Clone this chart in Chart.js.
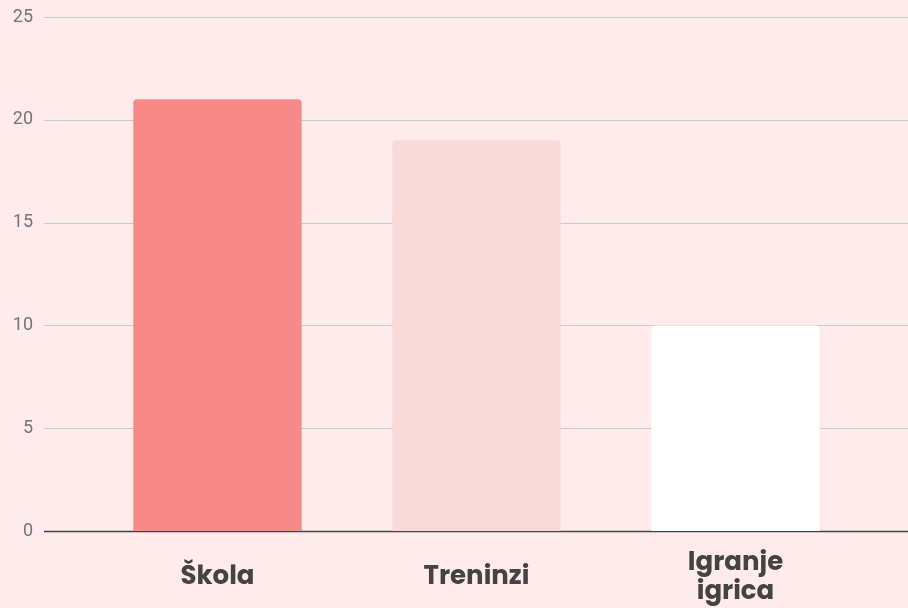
<!DOCTYPE html>
<html>
<head>
<meta charset="utf-8">
<script src="https://cdn.jsdelivr.net/npm/chart.js@4.4.0/dist/chart.umd.min.js"></script>
<style>
  html, body { margin: 0; padding: 0; background: #FFEBEB; }
  #wrap { width: 908px; height: 608px; position: relative; }
</style>
</head>
<body>
<div id="wrap"><canvas id="c" width="908" height="608"></canvas></div>
<script>
const categories = [["Škola"], ["Treninzi"], ["Igranje", "igrica"]];
const values = [21, 19, 10];
const barColors = ["#F78A88", "#F9D9D9", "#FFFFFF"];
const yTicks = [0, 5, 10, 15, 20, 25];

const fullGrid = {
  id: 'fullGrid',
  beforeDatasetsDraw(chart) {
    const ctx = chart.ctx;
    const y = chart.scales.y;
    ctx.save();
    y.ticks.forEach(t => {
      const py = Math.round(y.getPixelForValue(t.value)) + 0.5;
      ctx.beginPath();
      ctx.moveTo(44, py);
      ctx.lineTo(908, py);
      if (t.value === 0) {
        ctx.strokeStyle = '#444444';
        ctx.lineWidth = 1.5;
      } else {
        ctx.strokeStyle = '#CACACA';
        ctx.lineWidth = 1;
      }
      ctx.stroke();
    });
    ctx.restore();
  }
};

new Chart(document.getElementById('c'), {
  type: 'bar',
  data: {
    labels: categories,
    datasets: [{
      data: values,
      backgroundColor: barColors,
      borderRadius: { topLeft: 4, topRight: 4, bottomLeft: 0, bottomRight: 0 },
      borderSkipped: 'bottom',
      categoryPercentage: 1.0,
      barPercentage: 0.65
    }]
  },
  options: {
    responsive: false,
    animation: false,
    devicePixelRatio: 1,
    layout: { padding: { top: 17, right: 43, left: 0, bottom: 0 } },
    plugins: { legend: { display: false }, tooltip: { enabled: false } },
    scales: {
      y: {
        min: 0, max: 25,
        afterBuildTicks(scale) { scale.ticks = yTicks.map(v => ({ value: v })); },
        afterFit(scale) { scale.width = 88; scale.paddingTop = 0; scale.paddingBottom = 0; },
        grid: { display: false, drawTicks: false },
        border: { display: false },
        ticks: {
          padding: 55,
          color: '#757575',
          font: { family: 'Roboto', size: 18 }
        }
      },
      x: {
        afterFit(scale) { scale.height = 77; },
        grid: { display: false, drawTicks: false },
        border: { display: false },
        ticks: {
          padding: 32,
          crossAlign: 'center',
          color: '#434343',
          font: { family: 'Poppins, "Open Sans", sans-serif', size: 26, weight: 'bold', lineHeight: 1.15 }
        }
      }
    }
  },
  plugins: [fullGrid]
});
</script>
</body>
</html>
